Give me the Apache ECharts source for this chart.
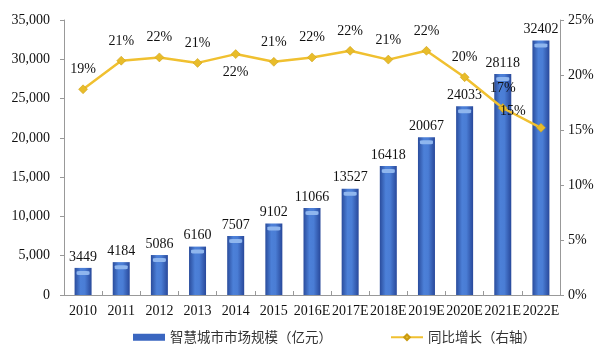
<!DOCTYPE html>
<html>
<head>
<meta charset="utf-8">
<script src="https://cdn.jsdelivr.net/npm/echarts@6/dist/echarts.min.js"></script>
<style>
  html, body { margin: 0; padding: 0; background: #fff; }
  #chart { width: 600px; height: 353px; }
</style>
</head>
<body>
<div id="chart"></div>
<script>
const years = ['2010', '2011', '2012', '2013', '2014', '2015', '2016E',
    '2017E', '2018E', '2019E', '2020E', '2021E', '2022E'];
const marketSize = [3449, 4184, 5086, 6160, 7507, 9102, 11066,
    13527, 16418, 20067, 24033, 28118, 32402];
const growthRate = [18.7, 21.3, 21.6, 21.1, 21.9, 21.2, 21.6,
    22.2, 21.4, 22.2, 19.8, 17.0, 15.2];
const growthLabels = ['19%', '21%', '22%', '21%', '22%', '21%', '22%',
    '22%', '21%', '22%', '20%', '17%', '15%'];
const leftTicks = [0, 5000, 10000, 15000, 20000, 25000, 30000, 35000];

const serif = '"Liberation Serif", "Times New Roman", serif';
const cjk = '"Noto Sans CJK SC", sans-serif';

const chart = echarts.init(document.getElementById('chart'));

const barColor = new echarts.graphic.LinearGradient(0, 0, 1, 0, [
    { offset: 0, color: '#2a4c9c' },
    { offset: 0.35, color: '#4c80d8' },
    { offset: 0.6, color: '#4a7dd5' },
    { offset: 1, color: '#28489a' }
]);

// label placement tweaks per point
const labelPos = {
    4: { position: 'bottom', distance: 6 },
    12: { position: 'top', offset: [-28, 3] }
};

chart.setOption({
    backgroundColor: '#fff',
    animation: false,
    grid: { left: 64, right: 40, top: 20, bottom: 58 },
    legend: {
        bottom: 4,
        left: 128,
        itemGap: 58,
        textStyle: { fontFamily: cjk, fontSize: 13.5, color: '#333' },
        data: [
            { name: '智慧城市市场规模（亿元）', icon: 'rect', itemStyle: { color: '#3a66c0' } },
            { name: '同比增长（右轴）' }
        ],
        itemWidth: 32,
        itemHeight: 7
    },
    xAxis: {
        type: 'category',
        data: years,
        axisLine: { lineStyle: { color: '#999' } },
        axisTick: { show: true, inside: true, length: 4, lineStyle: { color: '#999' } },
        axisLabel: { fontFamily: serif, fontSize: 14, color: '#111', margin: 9, interval: 0 }
    },
    yAxis: [{
        type: 'value',
        min: 0,
        max: 35000,
        interval: 5000,
        splitLine: { show: false },
        axisLine: { show: true, lineStyle: { color: '#999' } },
        axisTick: { show: true, length: 4, lineStyle: { color: '#999' } },
        axisLabel: {
            fontFamily: serif, fontSize: 14, color: '#111', margin: 14,
            formatter: v => leftTicks.includes(v) ? v.toLocaleString('en-US') : ''
        }
    }, {
        type: 'value',
        min: 0,
        max: 25,
        interval: 5,
        splitLine: { show: false },
        axisLine: { show: true, lineStyle: { color: '#999' } },
        axisTick: { show: true, length: 4, lineStyle: { color: '#999' } },
        axisLabel: { fontFamily: serif, fontSize: 14, color: '#111', margin: 8, formatter: '{value}%' }
    }],
    series: [{
        name: '智慧城市市场规模（亿元）',
        type: 'bar',
        barWidth: 17,
        data: marketSize,
        itemStyle: { color: barColor },
        label: {
            show: true,
            position: 'top',
            distance: 4,
            fontFamily: serif,
            fontSize: 14,
            color: '#111'
        }
    }, {
        name: 'barTop',
        type: 'pictorialBar',
        symbol: 'roundRect',
        symbolSize: [13, 4],
        symbolPosition: 'end',
        symbolOffset: [0, 3],
        silent: true,
        z: 3,
        data: marketSize,
        itemStyle: { color: '#8fb6ee' }
    }, {
        name: '同比增长（右轴）',
        type: 'line',
        yAxisIndex: 1,
        z: 5,
        symbol: 'diamond',
        symbolSize: 9,
        lineStyle: { color: '#f0c030', width: 2.5 },
        itemStyle: { color: '#e8bc2a', borderColor: '#c99a10', borderWidth: 0.5 },
        label: {
            show: true,
            position: 'top',
            distance: 8,
            fontFamily: serif,
            fontSize: 14,
            color: '#111',
            formatter: p => growthLabels[p.dataIndex]
        },
        data: growthRate.map((v, i) => labelPos[i]
            ? { value: v, label: labelPos[i] }
            : v)
    }]
});
</script>
</body>
</html>
